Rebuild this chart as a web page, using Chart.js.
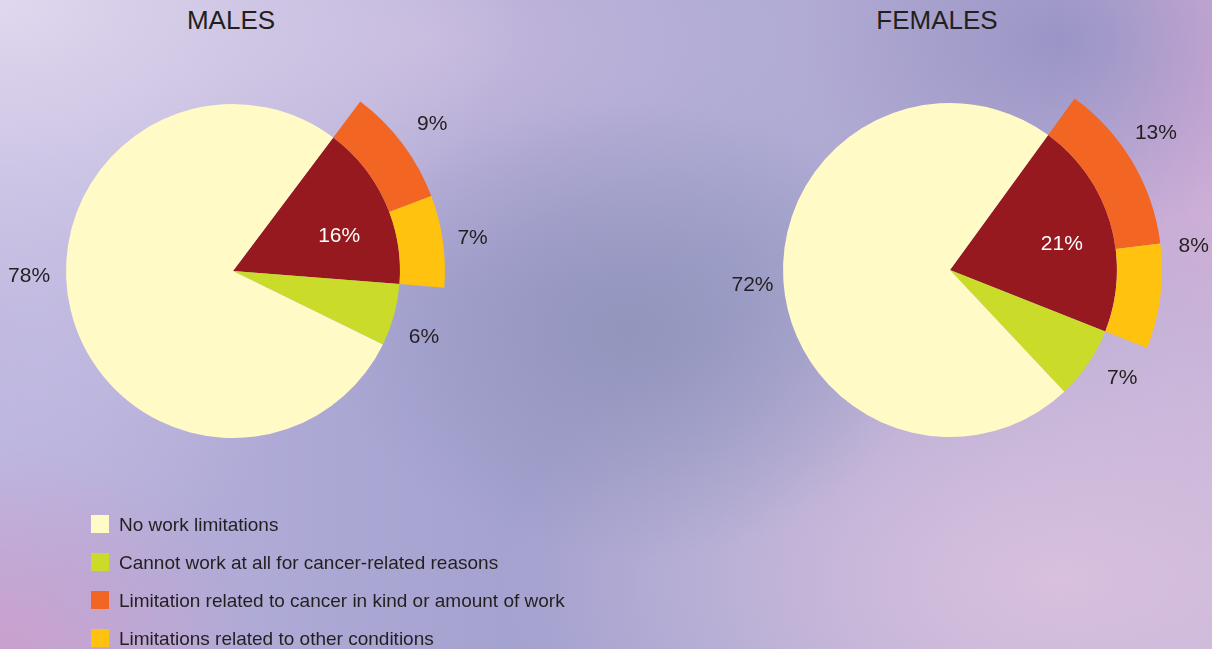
<!DOCTYPE html>
<html>
<head>
<meta charset="utf-8">
<script src="https://cdn.jsdelivr.net/npm/chart.js@4/dist/chart.umd.min.js"></script>
<style>
  html, body { margin: 0; padding: 0; }
  body {
    width: 1212px; height: 649px; overflow: hidden; position: relative;
    font-family: "Liberation Sans", Arial, Helvetica, sans-serif;
    color: #231f20;
    background-color: #aaa7d3;
    background-image:
      radial-gradient(ellipse 300px 230px at 630px 330px, rgba(146,148,188,0.95), rgba(146,148,188,0)),
      radial-gradient(ellipse 260px 200px at 1060px 40px, rgba(150,146,196,0.9), rgba(150,146,196,0)),
      radial-gradient(ellipse 160px 320px at 1212px 60px, rgba(214,170,214,0.95), rgba(214,170,214,0)),
      radial-gradient(ellipse 560px 320px at 1060px 580px, rgba(216,192,222,1), rgba(216,192,222,0)),
      radial-gradient(ellipse 260px 200px at 0px 649px, rgba(202,160,206,1), rgba(202,160,206,0)),
      radial-gradient(ellipse 520px 330px at 0px 0px, rgba(224,216,238,1), rgba(224,216,238,0)),
      radial-gradient(ellipse 520px 260px at 420px 40px, rgba(200,186,222,0.9), rgba(200,186,222,0)),
      radial-gradient(ellipse 260px 260px at 40px 330px, rgba(196,188,226,0.8), rgba(196,188,226,0)),
      linear-gradient(90deg, #b9b2dc 0%, #a3a1cf 45%, #a6a6d0 60%, #c4b2d8 100%);
  }
  canvas { position: absolute; top: 0; }
  #malesWrap { position: absolute; left: 0; top: 0; width: 560px; height: 542px; }
  #femalesWrap { position: absolute; left: 700px; top: 0; width: 512px; height: 540px; }
  .title { position: absolute; top: 7px; font-size: 26px; line-height: 26px; transform: translateX(-50%); white-space: nowrap; }
  #legend { position: absolute; left: 91px; top: 515px; display: flex; flex-direction: column; gap: 20px; }
  .item { display: flex; align-items: flex-start; height: 18px; font-size: 19px; line-height: 19px; white-space: nowrap; }
  .box { width: 18px; height: 18px; margin-right: 10px; flex: none; }
</style>
</head>
<body>
<div class="title" style="left:231px">MALES</div>
<div class="title" style="left:937px">FEMALES</div>
<div id="malesWrap"><canvas id="males"></canvas></div>
<div id="femalesWrap"><canvas id="females"></canvas></div>
<div id="legend"></div>
<script>
// Inner pie: total limitation wedge, cannot work, none
const innerLabels = ['Work limitation (total)', 'Cannot work at all for cancer-related reasons', 'No work limitations'];
// Outer band on the limitation wedge
const outerLabels = ['Limitation related to cancer in kind or amount of work', 'Limitations related to other conditions'];

const malesInner = [16, 6, 78];
const malesOuter = [9, 7];
const femalesInner = [21, 7, 72];
const femalesOuter = [13, 8];

// legend order as in the figure
const legendLabels = ['No work limitations', 'Cannot work at all for cancer-related reasons',
  'Limitation related to cancer in kind or amount of work', 'Limitations related to other conditions'];
const legendColors = ['#fffac6', '#cadb2a', '#f26522', '#ffc20e'];

const innerColors = ['#95191f', '#cadb2a', '#fffac6'];
const outerColors = ['#f26522', '#ffc20e'];

// draws the % text next to each arc, using the arc geometry from chart.js
const pctLabels = {
  id: 'pctLabels',
  afterDatasetsDraw(chart, args, opts) {
    const ctx = chart.ctx;
    ctx.save();
    ctx.font = '21px "Liberation Sans", Arial, sans-serif';
    ctx.textAlign = 'center';
    ctx.textBaseline = 'middle';
    chart.data.datasets.forEach((ds, di) => {
      const meta = chart.getDatasetMeta(di);
      meta.data.forEach((arc, i) => {
        const p = opts.place[di][i];
        const a = arc.getProps(['x', 'y', 'startAngle', 'endAngle', 'outerRadius'], true);
        const ang = a.startAngle + p.frac * (a.endAngle - a.startAngle);
        const r = a.outerRadius + p.dr;
        ctx.fillStyle = p.color || '#231f20';
        ctx.fillText(ds.data[i] + '%', a.x + r * Math.cos(ang), a.y + r * Math.sin(ang) + 1);
      });
    });
    ctx.restore();
  }
};

function makePie(id, inner, outer, rotation, padRight, place) {
  const ctx = document.getElementById(id).getContext('2d');
  const total = inner[0];
  return new Chart(ctx, {
    type: 'pie',
    data: {
      labels: innerLabels,
      datasets: [{
        // outer band, only over the limitation wedge
        label: 'outer',
        data: outer,
        backgroundColor: outerColors,
        rotation: rotation,
        circumference: total * 3.6,
        weight: 45,
        radius: 212
      }, {
        label: 'inner',
        data: inner,
        backgroundColor: innerColors,
        rotation: rotation,
        weight: 167,
        radius: 212
      }]
    },
    options: {
      responsive: true,
      maintainAspectRatio: false,
      animation: false,
      borderWidth: 0,
      hoverOffset: 0,
      layout: { padding: { right: padRight } },
      plugins: {
        legend: { display: false },
        tooltip: { enabled: false },
        pctLabels: { place: place }
      }
    },
    plugins: [pctLabels]
  });
}

makePie('males', malesInner, malesOuter, 36.9, 94, [
  [{ frac: 0.51, dr: 36 }, { frac: 0.50, dr: 30 }],
  [{ frac: 0.60, dr: -55, color: '#ffffff' }, { frac: 0.67, dr: 35 }, { frac: 0.544, dr: 37 }]
]);

makePie('females', femalesInner, femalesOuter, 36.0, 12, [
  [{ frac: 0.43, dr: 36 }, { frac: 0.05, dr: 33 }],
  [{ frac: 0.536, dr: -52, color: '#ffffff' }, { frac: 0.41, dr: 36 }, { frac: 0.498, dr: 31 }]
]);

// legend
const legend = document.getElementById('legend');
legendLabels.forEach((txt, i) => {
  const row = document.createElement('div');
  row.className = 'item';
  row.innerHTML = '<span class="box" style="background:' + legendColors[i] + '"></span><span>' + txt + '</span>';
  legend.appendChild(row);
});
</script>
</body>
</html>
